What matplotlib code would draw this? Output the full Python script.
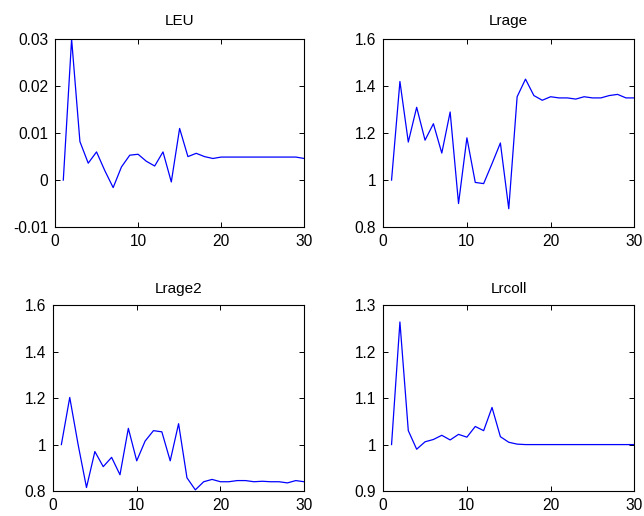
import matplotlib.pyplot as plt
from matplotlib.ticker import FuncFormatter

plt.rcParams['font.family'] = ['Liberation Sans', 'DejaVu Sans']

iters = list(range(1, 31))

leu = [0.0, 0.030, 0.0082, 0.0036, 0.006, 0.002, -0.0016, 0.0028, 0.0053, 0.0055,
       0.004, 0.003, 0.006, -0.0004, 0.011, 0.005, 0.0057, 0.005, 0.0046, 0.0049,
       0.0049, 0.0049, 0.0049, 0.0049, 0.0049, 0.0049, 0.0049, 0.0049, 0.0049, 0.0046]

lrage = [1.0, 1.42, 1.162, 1.31, 1.17, 1.24, 1.115, 1.29, 0.90, 1.18,
         0.99, 0.985, 1.07, 1.158, 0.878, 1.355, 1.43, 1.36, 1.34, 1.355,
         1.35, 1.35, 1.345, 1.355, 1.35, 1.35, 1.36, 1.365, 1.35, 1.35]

lrage2 = [1.0, 1.203, 1.0, 0.815, 0.97, 0.905, 0.945, 0.87, 1.07, 0.93,
          1.015, 1.06, 1.055, 0.93, 1.09, 0.857, 0.805, 0.84, 0.85, 0.84,
          0.84, 0.845, 0.845, 0.84, 0.842, 0.84, 0.84, 0.835, 0.845, 0.84]

lrcoll = [1.0, 1.264, 1.03, 0.99, 1.006, 1.011, 1.02, 1.01, 1.022, 1.016,
          1.039, 1.03, 1.08, 1.017, 1.005, 1.001, 1.0, 1.0, 1.0, 1.0,
          1.0, 1.0, 1.0, 1.0, 1.0, 1.0, 1.0, 1.0, 1.0, 1.0]

panels = [
    ("LEU", leu, (-0.01, 0.03), [-0.01, 0, 0.01, 0.02, 0.03]),
    ("Lrage", lrage, (0.8, 1.6), [0.8, 1.0, 1.2, 1.4, 1.6]),
    ("Lrage2", lrage2, (0.8, 1.6), [0.8, 1.0, 1.2, 1.4, 1.6]),
    ("Lrcoll", lrcoll, (0.9, 1.3), [0.9, 1.0, 1.1, 1.2, 1.3]),
]

# axes rectangles in figure fractions (left, bottom, width, height)
rects = [
    [0.0854, 0.560, 0.387, 0.364],
    [0.595, 0.560, 0.390, 0.364],
    [0.0823, 0.0484, 0.390, 0.360],
    [0.595, 0.0484, 0.390, 0.360],
]
title_pads = [10.5, 10.5, 9, 9]

fig = plt.figure(figsize=(6.44, 5.16), dpi=100)

for (title, vals, ylim, yticks), rect, tpad in zip(panels, rects, title_pads):
    ax = fig.add_axes(rect)
    ax.plot(iters, vals, color="#0000ff", linewidth=0.9)
    ax.set_xlim(0, 30)
    ax.set_ylim(*ylim)
    ax.set_xticks([0, 10, 20, 30])
    ax.set_yticks(yticks)
    ax.yaxis.set_major_formatter(FuncFormatter(lambda v, p: "%g" % round(v, 4)))
    ax.tick_params(direction="in", top=True, right=True, length=3.5, width=0.7,
                   labelsize=11.2)
    ax.tick_params(axis="x", pad=5)
    ax.tick_params(axis="y", pad=5)
    for s in ax.spines.values():
        s.set_linewidth(0.8)
    ax.set_title(title, fontsize=11, pad=tpad)

plt.savefig("out.png", dpi=100)
